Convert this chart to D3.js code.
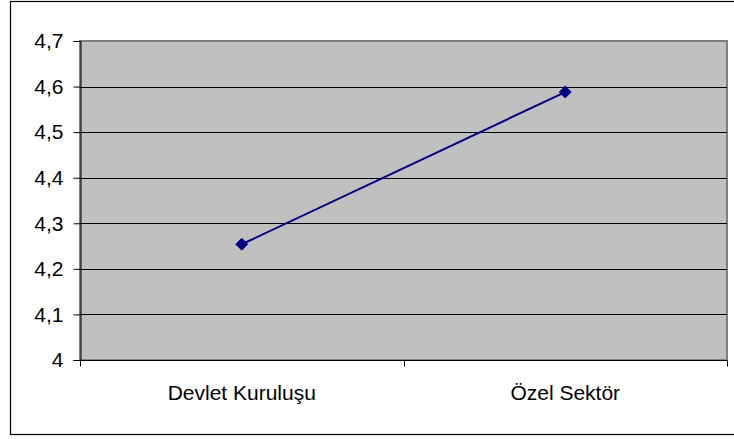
<!DOCTYPE html>
<html><head><meta charset="utf-8">
<script src="https://cdn.jsdelivr.net/npm/d3@7"></script>
<style>body{margin:0;background:#fff}svg{display:block}text{font-family:"Liberation Sans",Arial,sans-serif}</style>
</head><body><svg id="c" width="734" height="439"></svg>
<script>
const categories = ["Devlet Kuruluşu", "Özel Sektör"];
const values = [4.254, 4.588];
const yTicks = [4, 4.1, 4.2, 4.3, 4.4, 4.5, 4.6, 4.7];
const yTickLabels = ["4", "4,1", "4,2", "4,3", "4,4", "4,5", "4,6", "4,7"];

const svg = d3.select("#c");
const L = 80, R = 727, T = 41, B = 360;
svg.append("rect").attr("x", 10.5).attr("y", 1.5).attr("width", 730).attr("height", 433)
  .attr("fill", "#fff").attr("stroke", "#000").attr("stroke-width", 1.2);

const x = d3.scaleBand().domain(categories).range([L, R]).paddingInner(0).paddingOuter(0);
const y = d3.scaleLinear().domain([4, 4.7]).range([B, T]);

svg.append("rect").attr("x", L).attr("y", T).attr("width", R - L).attr("height", B - T)
  .attr("fill", "#c0c0c0").attr("stroke", "#808080").attr("stroke-width", 2);

svg.append("g").selectAll("line").data(yTicks.slice(1, -1)).join("line")
  .attr("x1", L).attr("x2", R).attr("y1", d => Math.round(y(d)) + 0.5).attr("y2", d => Math.round(y(d)) + 0.5)
  .attr("stroke", "#000").attr("stroke-width", 1);

const yAxis = d3.axisLeft(y).tickValues(yTicks).tickSize(7).tickPadding(10)
  .tickFormat((d, i) => yTickLabels[i]);
const gy = svg.append("g").attr("transform", `translate(${L + 0.5},0)`).call(yAxis);
gy.attr("font-size", null).attr("font-family", null);
gy.select(".domain").attr("stroke", "#000");
gy.selectAll(".tick line").attr("stroke", "#000");
gy.selectAll("text").style("font-size", "21px").attr("fill", "#000");

const gx = svg.append("g").attr("transform", `translate(0,${B + 0.5})`);
gx.append("line").attr("x1", L).attr("x2", R).attr("stroke", "#000");
const bounds = [L, ...categories.map(c => x(c) + x.bandwidth())];
gx.selectAll("line.t").data(bounds).join("line").attr("class", "t")
  .attr("x1", d => Math.round(d) + 0.5).attr("x2", d => Math.round(d) + 0.5).attr("y1", 0).attr("y2", 6).attr("stroke", "#000");
gx.selectAll("text").data(categories).join("text")
  .attr("x", d => x(d) + x.bandwidth() / 2).attr("y", 39).attr("text-anchor", "middle")
  .style("font-size", "21px").attr("fill", "#000").text(d => d);

const pts = categories.map((c, i) => [x(c) + x.bandwidth() / 2, y(values[i])]);
svg.append("path").attr("d", d3.line()(pts)).attr("fill", "none").attr("stroke", "#000080").attr("stroke-width", 2);
svg.append("g").selectAll("path").data(pts).join("path")
  .attr("transform", d => `translate(${d[0]},${d[1]})`)
  .attr("d", d3.symbol(d3.symbolDiamond2, 90)())
  .attr("fill", "#000080").attr("stroke", "#000080").attr("stroke-width", 1);
</script></body></html>
